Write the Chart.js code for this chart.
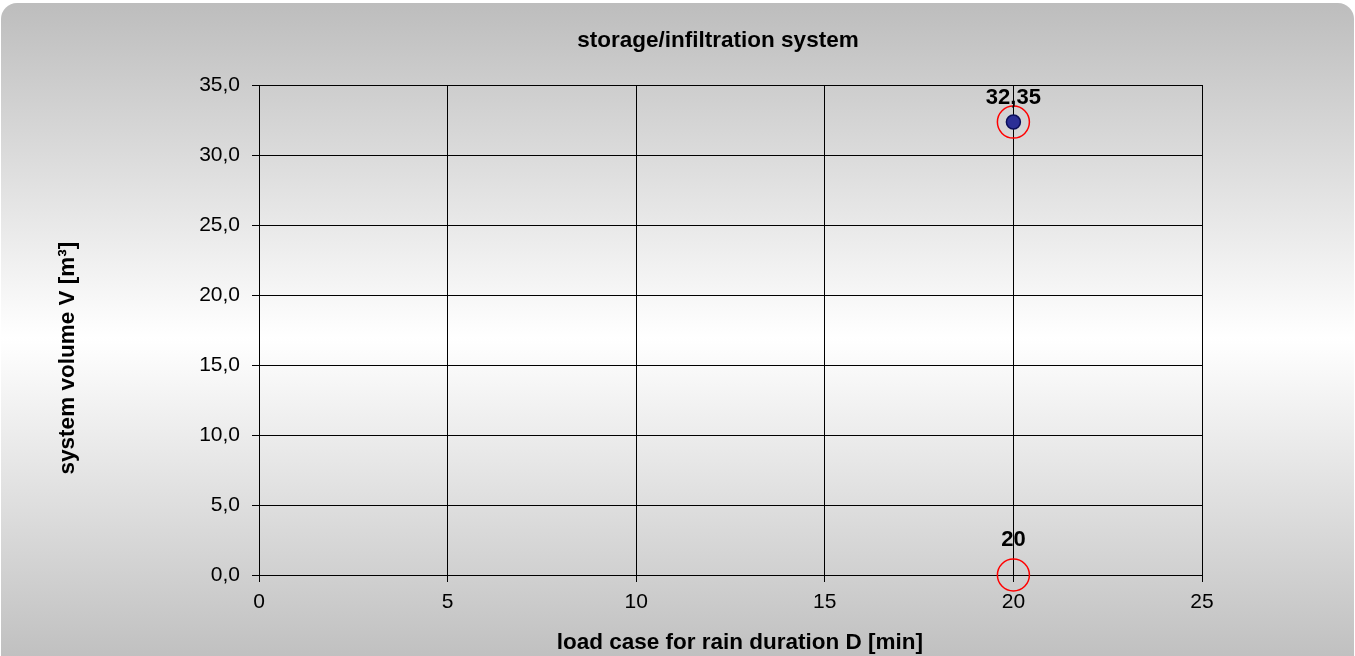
<!DOCTYPE html>
<html>
<head>
<meta charset="utf-8">
<script src="https://cdn.jsdelivr.net/npm/chart.js@4/dist/chart.umd.min.js"></script>
<style>
  html, body { margin: 0; padding: 0; background: #fff; overflow: hidden; }
  #wrap { position: relative; width: 1355px; height: 656px; }
  #card {
    position: absolute; left: 1px; top: 3px; width: 1353px; height: 670px;
    border-radius: 16px;
    background: linear-gradient(to bottom, #bdbdbd 0%, #ffffff 50%, #bdbdbd 100%);
  }
  #chart { position: absolute; left: 0; top: 0; }
</style>
</head>
<body>
<div id="wrap">
  <div id="card"></div>
  <canvas id="chart" width="1355" height="656"></canvas>
</div>
<script>
// load case data
const durations = [20];          // rain duration D [min]
const volumes = [32.35];         // system volume V [m³]
const xTicks = [0, 5, 10, 15, 20, 25];
const yTicks = [0, 5, 10, 15, 20, 25, 30, 35];

const fmt = (v, d) => v.toFixed(d).replace('.', ',');
const FONT = '"Liberation Sans", Arial, sans-serif';
// pad a title with spaces to nudge it off the axis centre like the original
const pad = (n) => ' '.repeat(n);

// point with the largest volume, and the same duration on the baseline
const maxIdx = volumes.indexOf(Math.max(...volumes));
const ringPoints = [
  {x: durations[maxIdx], y: volumes[maxIdx]},
  {x: durations[maxIdx], y: 0}
];

const pointLabels = {
  id: 'pointLabels',
  afterDatasetsDraw(chart) {
    const ctx = chart.ctx;
    ctx.save();
    ctx.font = 'bold 22px ' + FONT;
    ctx.fillStyle = '#000';
    ctx.textAlign = 'center';
    ctx.textBaseline = 'alphabetic';
    chart.data.datasets.forEach((ds, i) => {
      if (!ds.labels) return;
      chart.getDatasetMeta(i).data.forEach((pt, j) => {
        const txt = ds.labels[j];
        if (txt) ctx.fillText(txt, pt.x, pt.y - ds.labelGap);
      });
    });
    ctx.restore();
  }
};

const data = {
  datasets: [
    {
      label: 'system volume',
      data: durations.map((d, i) => ({x: d, y: volumes[i]})),
      pointRadius: 7,
      pointHoverRadius: 7,
      backgroundColor: '#2b2f96',
      borderColor: '#0b0f5a',
      borderWidth: 1.5,
      showLine: false,
      clip: false,
      labels: volumes.map(v => fmt(v, 2)),
      labelGap: 18
    },
    {
      label: 'marker',
      data: ringPoints,
      pointRadius: 16,
      pointHoverRadius: 16,
      backgroundColor: 'rgba(0,0,0,0)',
      borderColor: '#ff0000',
      borderWidth: 1.5,
      showLine: false,
      clip: false,
      labels: ['', String(durations[maxIdx])],
      labelGap: 29
    }
  ]
};

const options = {
  responsive: false,
  animation: false,
  layout: { padding: { left: 0, right: 153, top: 0, bottom: 0 } },
  plugins: {
    legend: { display: false },
    tooltip: { enabled: false },
    title: {
      display: true,
      text: 'storage/infiltration system' + pad(4),
      fullSize: false,
      color: '#000',
      font: { family: FONT, size: 22.5, weight: 'bold' },
      padding: { top: 27, bottom: 31 }
    }
  },
  scales: {
    x: {
      type: 'linear',
      min: 0,
      max: 25,
      afterBuildTicks: (s) => { s.ticks = xTicks.map(v => ({value: v})); },
      afterFit: (s) => { s.height = 81; },
      ticks: {
        color: '#000',
        padding: 8,
        font: { family: FONT, size: 21 },
        callback: (v) => String(v)
      },
      grid: { color: '#000', lineWidth: 1, tickLength: 7 },
      border: { color: '#000' },
      title: {
        display: true,
        text: pad(3) + 'load case for rain duration D [min]',
        color: '#000',
        font: { family: FONT, size: 22.5, weight: 'bold' },
        padding: { top: 0, bottom: 0 }
      }
    },
    y: {
      type: 'linear',
      min: 0,
      max: 35,
      afterBuildTicks: (s) => { s.ticks = yTicks.map(v => ({value: v})); },
      afterFit: (s) => { s.width = 259; },
      ticks: {
        color: '#000',
        padding: 12,
        font: { family: FONT, size: 21 },
        callback: (v) => fmt(v, 1)
      },
      grid: { color: '#000', lineWidth: 1, tickLength: 7 },
      border: { color: '#000' },
      title: {
        display: true,
        text: 'system volume V [m³]' + pad(9),
        color: '#000',
        font: { family: FONT, size: 22.5, weight: 'bold' },
        padding: { top: 54, bottom: 0 }
      }
    }
  }
};

new Chart(document.getElementById('chart'), {
  type: 'scatter',
  data: data,
  options: options,
  plugins: [pointLabels]
});
</script>
</body>
</html>
